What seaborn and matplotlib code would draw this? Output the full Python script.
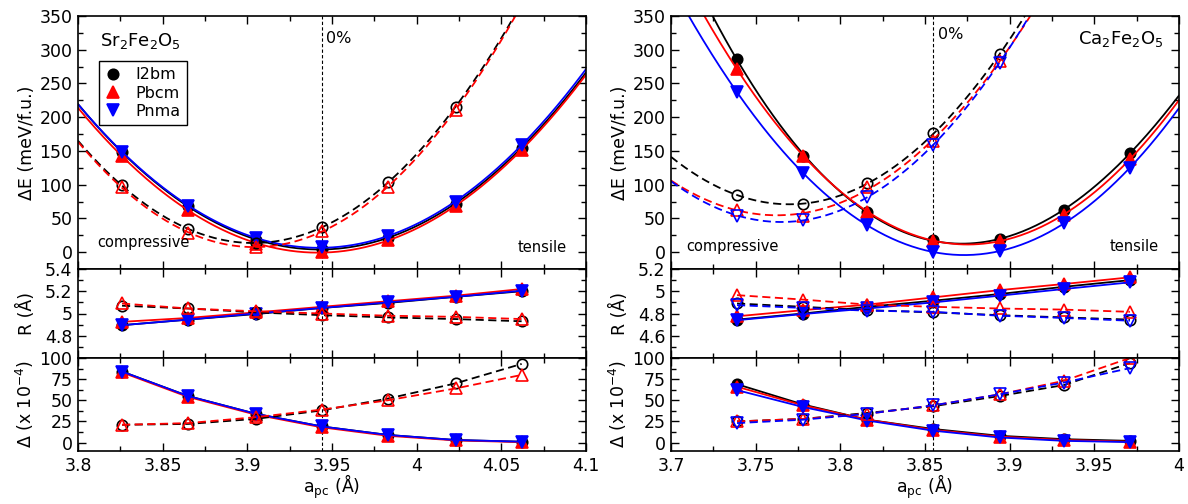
import numpy as np
import matplotlib
matplotlib.use("Agg")
import matplotlib.pyplot as plt
from matplotlib.lines import Line2D
from matplotlib.ticker import MultipleLocator, FuncFormatter
import seaborn as sns

nan = np.nan

# pseudo-cubic lattice parameter (Å), -3% ... +3% strain
a_sr = [3.826, 3.865, 3.905, 3.944, 3.983, 4.023, 4.062]
a_ca = [3.739, 3.778, 3.816, 3.855, 3.894, 3.932, 3.971]
a0_sr = 3.944
a0_ca = 3.855

phases = ["I2bm", "Pbcm", "Pnma"]
colors = {"I2bm": "black", "Pbcm": "red", "Pnma": "blue"}
markers = {"I2bm": "o", "Pbcm": "^", "Pnma": "v"}

# Sr2Fe2O5: energy (meV/f.u.), filled = solid lines, open = dashed lines
dE_sr = {"I2bm": [148, 68, 18, 5, 21, 72, 155],
         "Pbcm": [142, 63, 12, 0, 18, 68, 152],
         "Pnma": [149, 69, 21, 7, 24, 75, 159]}
dE_sr_open = {"I2bm": [99, 34, 13, 37, 104, 215, nan],
              "Pbcm": [96, 28, 8, 31, 97, 211, nan]}
R_sr = {"I2bm": [4.895, 4.945, 4.995, 5.05, 5.095, 5.15, 5.20],
        "Pbcm": [4.925, 4.96, 5.01, 5.06, 5.11, 5.16, 5.22],
        "Pnma": [4.895, 4.945, 5.0, 5.05, 5.10, 5.15, 5.205]}
R_sr_open = {"I2bm": [5.07, 5.045, 5.01, 4.985, 4.965, 4.95, 4.93],
             "Pbcm": [5.09, 5.045, 5.02, 5.00, 4.98, 4.97, 4.95]}
D_sr = {"I2bm": [84, 55, 34, 19, 9, 3, 1],
        "Pbcm": [83, 54, 33, 18, 8, 2.5, 0.5],
        "Pnma": [84, 55, 34, 19, 9, 3, 1]}
D_sr_open = {"I2bm": [21, 22, 28, 38, 52, 70, 93],
             "Pbcm": [21, 23, 30, 39, 50, 64, 80]}

# Ca2Fe2O5
dE_ca = {"I2bm": [286, 143, 60, 18, 19, 62, 147],
         "Pbcm": [271, 143, 60, 17, 17, 55, 138],
         "Pnma": [237, 117, 40, 0, 1, 43, 125]}
dE_ca_open = {"I2bm": [85, 71, 102, 176, 293, nan, nan],
              "Pbcm": [63, 54, 97, 165, 283, nan, nan],
              "Pnma": [54, 48, 81, 159, 281, nan, nan]}
R_ca = {"I2bm": [4.745, 4.80, 4.86, 4.915, 4.975, 5.04, 5.10],
        "Pbcm": [4.775, 4.83, 4.88, 4.945, 5.01, 5.065, 5.125],
        "Pnma": [4.74, 4.795, 4.845, 4.90, 4.96, 5.02, 5.08]}
R_ca_open = {"I2bm": [4.89, 4.86, 4.83, 4.81, 4.785, 4.765, 4.745],
             "Pbcm": [4.965, 4.925, 4.88, 4.86, 4.845, 4.835, 4.815],
             "Pnma": [4.875, 4.85, 4.825, 4.815, 4.78, 4.76, 4.735]}
D_ca = {"I2bm": [69, 45, 27, 16, 8, 4, 2],
        "Pbcm": [66, 44, 27, 15, 7, 3, 1],
        "Pnma": [62, 42, 26, 14, 6, 2, 0.5]}
D_ca_open = {"I2bm": [25, 28, 35, 43, 55, 68, 94],
             "Pbcm": [25, 28, 34, 44, 57, 73, 100],
             "Pnma": [23, 27, 34, 44, 57, 71, 88]}

sns.set_theme(style="ticks")
plt.rcParams["font.family"] = ["DejaVu Sans"]
plt.rcParams["mathtext.default"] = "regular"
plt.rcParams["axes.linewidth"] = 1.2
for key in ("text.color", "axes.labelcolor", "xtick.color", "ytick.color",
            "axes.edgecolor"):
    plt.rcParams[key] = "black"

DASH = (0, (4.5, 2.5))
LW = 1.3


def style_marker(ph, filled):
    c = colors[ph]
    ms = 7.5 if ph == "I2bm" else 8.5
    return dict(marker=markers[ph], ms=ms, mec=c, mew=1.2,
                mfc=c if filled else "none")


def draw_fit(ax, x, y, ph, filled, xlim):
    x = np.asarray(x, float)
    y = np.asarray(y, float)
    ok = ~np.isnan(y)
    deg = 3 if filled else 2
    coef = np.polyfit(x[ok], y[ok], deg)
    xs = np.linspace(xlim[0], xlim[1], 300)
    sns.lineplot(x=xs, y=np.polyval(coef, xs), ax=ax, color=colors[ph], lw=LW,
                 linestyle="-" if filled else DASH)
    ax.plot(x[ok], y[ok], ls="none", clip_on=True, **style_marker(ph, filled))


def draw_line(ax, x, y, ph, filled):
    sns.lineplot(x=x, y=y, ax=ax, color=colors[ph], lw=LW,
                 linestyle="-" if filled else DASH, **style_marker(ph, filled))


def setup_ticks(ax, ymajor, yminor):
    ax.yaxis.set_major_locator(MultipleLocator(ymajor))
    ax.yaxis.set_minor_locator(MultipleLocator(yminor))
    ax.xaxis.set_major_locator(MultipleLocator(0.05))
    ax.xaxis.set_minor_locator(MultipleLocator(0.025))
    fmt = FuncFormatter(lambda v, p: f"{round(v, 6):g}")
    ax.xaxis.set_major_formatter(fmt)
    ax.yaxis.set_major_formatter(fmt)
    ax.tick_params(which="both", direction="in", top=True, right=True,
                   width=1.0, labelsize=12.5, color="black", labelcolor="black")
    ax.tick_params(which="major", length=6, pad=4)
    ax.tick_params(which="minor", length=3.5)


fig = plt.figure(figsize=(11.88, 5.04), dpi=100)

columns = [
    dict(left=78, x=a_sr, a0=a0_sr, xlim=(3.8, 4.1), rlim=(4.6, 5.4),
         rticks=[4.8, 5.0, 5.2, 5.4], dE=dE_sr, dEo=dE_sr_open, R=R_sr,
         Ro=R_sr_open, D=D_sr, Do=D_sr_open),
    dict(left=671, x=a_ca, a0=a0_ca, xlim=(3.7, 4.0), rlim=(4.4, 5.2),
         rticks=[4.6, 4.8, 5.0, 5.2], dE=dE_ca, dEo=dE_ca_open, R=R_ca,
         Ro=R_ca_open, D=D_ca, Do=D_ca_open),
]

W, H = 1188.0, 504.0
for k, col in enumerate(columns):
    l = col["left"] / W
    w = 508 / W
    ax_e = fig.add_axes([l, 1 - 269 / H, w, 253 / H])
    ax_r = fig.add_axes([l, 1 - 358 / H, w, 89 / H], sharex=ax_e)
    ax_d = fig.add_axes([l, 1 - 451 / H, w, 93 / H], sharex=ax_e)
    x = col["x"]

    for ph in phases:
        draw_fit(ax_e, x, col["dE"][ph], ph, True, col["xlim"])
    for ph in col["dEo"]:
        draw_fit(ax_e, x, col["dEo"][ph], ph, False, col["xlim"])
    for ph in phases:
        draw_line(ax_r, x, col["R"][ph], ph, True)
        draw_line(ax_d, x, col["D"][ph], ph, True)
    for ph in col["Ro"]:
        draw_line(ax_r, x, col["Ro"][ph], ph, False)
    for ph in col["Do"]:
        draw_line(ax_d, x, col["Do"][ph], ph, False)

    for ax in (ax_e, ax_r, ax_d):
        ax.axvline(col["a0"], color="black", lw=0.8, ls=(0, (3, 2)), zorder=0.5)
    ax_e.set_xlim(*col["xlim"])
    ax_e.set_ylim(-25, 350)
    ax_r.set_ylim(*col["rlim"])
    ax_d.set_ylim(-10, 100)
    setup_ticks(ax_e, 50, 25)
    setup_ticks(ax_r, 0.2, 0.1)
    ax_r.set_yticks(col["rticks"])
    setup_ticks(ax_d, 25, 12.5)
    ax_e.tick_params(labelbottom=False)
    ax_r.tick_params(labelbottom=False)

    ax_e.set_ylabel("ΔE (meV/f.u.)", fontsize=12.5)
    ax_r.set_ylabel("R (Å)", fontsize=12.5)
    ax_d.set_ylabel("Δ (x 10$^{-4}$)", fontsize=12.5)
    for ax in (ax_e, ax_r, ax_d):
        ax.yaxis.set_label_coords(-0.083, 0.5)
    ax_d.set_xlabel("a$_{pc}$ (Å)", fontsize=12.5, labelpad=0)
    ax_d.xaxis.set_label_coords(0.5, -0.235)
    ax_d.xaxis.label.set_va("top")

    if k == 0:
        ax_e.text(0.043, 0.883, "Sr$_2$Fe$_2$O$_5$", transform=ax_e.transAxes,
                  fontsize=13, va="baseline", ha="left")
        ax_e.text(0.037, 0.087, "compressive", transform=ax_e.transAxes,
                  fontsize=10.5, va="baseline")
        ax_e.text(0.963, 0.067, "tensile", transform=ax_e.transAxes,
                  fontsize=10.5, va="baseline", ha="right")
        ax_e.text(col["a0"] + 0.0025, 310, "0%", fontsize=11.5, va="baseline")
        handles = [Line2D([], [], ls="none", **style_marker(ph, True)) for ph in phases]
        leg = ax_e.legend(handles, phases, loc="upper left",
                          bbox_to_anchor=(0.041, 0.822), borderaxespad=0,
                          frameon=True, fancybox=False, edgecolor="black",
                          framealpha=1, fontsize=11.5, handlelength=1.0,
                          handletextpad=0.9, labelspacing=0.2, borderpad=0.4)
        leg.get_frame().set_linewidth(1.0)
    else:
        ax_e.text(0.969, 0.889, "Ca$_2$Fe$_2$O$_5$", transform=ax_e.transAxes,
                  fontsize=13, va="baseline", ha="right")
        ax_e.text(0.031, 0.071, "compressive", transform=ax_e.transAxes,
                  fontsize=10.5, va="baseline")
        ax_e.text(0.961, 0.071, "tensile", transform=ax_e.transAxes,
                  fontsize=10.5, va="baseline", ha="right")
        ax_e.text(col["a0"] + 0.0025, 316, "0%", fontsize=11.5, va="baseline")

fig.savefig("out.png", dpi=100)
